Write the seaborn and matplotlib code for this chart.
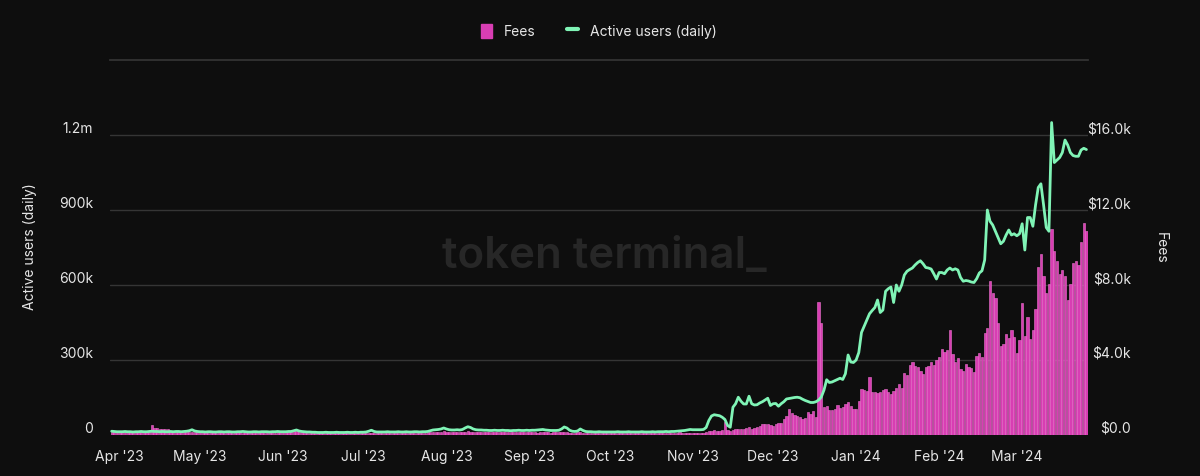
import numpy as np
import pandas as pd
import matplotlib
matplotlib.use("Agg")
import matplotlib.pyplot as plt
import matplotlib.dates as mdates
from matplotlib.patches import Patch
from matplotlib.lines import Line2D
import seaborn as sns

# ==============================================================================
# 1. DATOS (un valor por día desde 2023-03-29)
# ==============================================================================
# usuarios activos diarios, en miles
usuarios_mar23 = [15, 14, 13]
usuarios_abr = [13, 13, 14, 13, 13, 12, 13, 13, 14, 13, 13, 14, 15, 14, 14, 13, 14, 13, 13, 14,
                13, 14, 14, 13, 14, 15, 17, 21, 16, 14]
usuarios_may = [13, 13, 12, 13, 13, 12, 12, 13, 13, 12, 13, 13, 12, 12, 13, 13, 14, 13, 12, 12,
                13, 13, 12, 13, 13, 13, 12, 13, 13, 14, 13]
usuarios_jun = [13, 13, 14, 14, 17, 20, 16, 14, 13, 12, 12, 11, 11, 10, 10, 10, 11, 10, 10, 10,
                11, 10, 10, 10, 11, 10, 10, 11, 10, 11]
usuarios_jul = [11, 12, 15, 19, 14, 12, 12, 12, 12, 13, 12, 12, 12, 13, 12, 12, 13, 12, 12, 13,
                13, 12, 13, 13, 14, 17, 20, 21, 22, 24, 28]
usuarios_ago = [24, 21, 20, 20, 21, 20, 22, 28, 33, 30, 24, 21, 20, 20, 19, 19, 18, 18, 19, 18,
                18, 19, 18, 18, 17, 18, 18, 19, 18, 18, 19]
usuarios_sep = [18, 19, 19, 20, 21, 22, 20, 19, 18, 18, 18, 19, 24, 32, 28, 19, 15, 14, 16, 24,
                18, 14, 13, 13, 12, 12, 13, 12, 12, 12]
usuarios_oct = [12, 12, 12, 13, 12, 12, 12, 13, 12, 12, 12, 12, 13, 12, 12, 12, 13, 12, 13, 13,
                13, 14, 13, 14, 14, 15, 16, 17, 18, 20, 22]
usuarios_nov = [21, 21, 21, 21, 22, 30, 58, 76, 81, 79, 77, 71, 62, 38, 31, 111, 125, 151, 135, 124,
                124, 155, 125, 120, 121, 128, 133, 140, 147, 118]
usuarios_dic = [125, 126, 115, 125, 133, 144, 146, 148, 150, 151, 149, 143, 138, 134, 130, 130, 133,
                140, 152, 180, 221, 210, 212, 217, 222, 227, 222, 245, 320, 292, 290]
usuarios_ene = [300, 330, 410, 435, 460, 485, 498, 510, 540, 490, 500, 575, 585, 592, 530, 600, 575,
                600, 640, 655, 662, 668, 680, 690, 697, 685, 670, 668, 664, 645, 624]
usuarios_feb = [650, 650, 645, 660, 668, 660, 665, 660, 630, 615, 618, 616, 612, 610, 625, 648, 657,
                700, 900, 855, 840, 815, 790, 765, 775, 800, 820, 800, 805]
usuarios_mar24 = [797, 805, 845, 740, 870, 870, 835, 920, 990, 1005, 920, 830, 815, 1250, 1090, 1100,
                  1110, 1130, 1180, 1160, 1130, 1118, 1115, 1115, 1140, 1147, 1142]

# fees diarios, en USD
fees_mar23 = [180, 170, 160]
fees_abr = [160, 150, 170, 160, 150, 140, 150, 160, 170, 150, 160, 200, 550, 380, 350, 330, 320, 330,
            300, 180, 170, 160, 150, 160, 170, 150, 140, 150, 160, 150]
fees_may = [140, 150, 140, 130, 140, 150, 130, 140, 140, 130, 150, 140, 130, 140, 150, 140, 130, 140,
            150, 140, 130, 140, 140, 150, 130, 140, 150, 140, 130, 140, 150]
fees_jun = [150, 170, 190, 210, 220, 200, 180, 150, 130, 120, 120, 110, 120, 110, 110, 120, 110, 100,
            110, 120, 110, 110, 100, 110, 120, 110, 110, 100, 110, 120]
fees_jul = [110, 120, 130, 120, 110, 110, 120, 110, 110, 120, 110, 100, 110, 120, 110, 110, 120, 110,
            110, 120, 130, 120, 120, 130, 140, 160, 170, 160, 170, 180, 190]
fees_ago = [180, 170, 160, 170, 180, 170, 160, 180, 190, 170, 160, 170, 180, 160, 170, 180, 170, 160,
            150, 170, 160, 150, 160, 170, 150, 160, 150, 160, 150, 140, 150]
fees_sep = [140, 150, 140, 130, 150, 160, 150, 140, 130, 140, 150, 170, 180, 160, 150, 130, 120, 130,
            140, 150, 130, 110, 100, 110, 100, 110, 100, 110, 100, 110]
fees_oct = [100, 110, 100, 100, 110, 100, 110, 100, 110, 100, 100, 110, 100, 110, 100, 110, 120, 110,
            110, 120, 110, 120, 130, 120, 130, 120, 140, 130, 120, 110, 120]
fees_nov = [110, 120, 100, 110, 130, 150, 210, 230, 240, 230, 220, 240, 680, 250, 200, 280, 300, 320,
            300, 340, 360, 400, 340, 360, 400, 460, 590, 600, 560, 520]
fees_dic = [500, 560, 620, 660, 840, 1000, 1390, 1150, 1080, 1000, 940, 850, 880, 1200, 1100, 1300,
            950, 7070, 6000, 1500, 1560, 1350, 1350, 1400, 1600, 1450, 1500, 1650, 1780, 1550, 1400]
fees_ene = [1400, 1800, 2450, 2400, 2350, 3080, 2280, 2300, 2250, 2300, 2400, 2450, 2300, 2200, 2350,
            2500, 2720, 2500, 3300, 3200, 3730, 3880, 3700, 3600, 3400, 3250, 3650, 3700, 3880, 3730, 4020]
fees_feb = [4140, 4590, 4450, 4550, 5620, 4320, 3880, 4090, 3520, 3430, 3790, 3610, 3560, 3340, 4200,
            4370, 4140, 5440, 5700, 8230, 7600, 7300, 6000, 4730, 4850, 5390, 5160, 5620, 5210]
fees_mar24 = [4370, 5080, 7020, 5300, 6280, 5120, 5620, 6720, 8940, 9650, 8500, 7560, 8050, 11000,
              9800, 9300, 8600, 8800, 8500, 7200, 8050, 9200, 9300, 9050, 10300, 11300, 10900]

usuarios = (usuarios_mar23 + usuarios_abr + usuarios_may + usuarios_jun + usuarios_jul + usuarios_ago
            + usuarios_sep + usuarios_oct + usuarios_nov + usuarios_dic + usuarios_ene + usuarios_feb
            + usuarios_mar24)
fees = (fees_mar23 + fees_abr + fees_may + fees_jun + fees_jul + fees_ago + fees_sep + fees_oct
        + fees_nov + fees_dic + fees_ene + fees_feb + fees_mar24)

fechas = pd.date_range("2023-03-29", "2024-03-27", freq="D")
df = pd.DataFrame({"fecha": fechas,
                   "usuarios": np.array(usuarios) * 1000,
                   "fees": fees})
df["x"] = mdates.date2num(df["fecha"])

ticks_usuarios = [0, 300000, 600000, 900000, 1200000]
etiquetas_usuarios = ["0", "300k", "600k", "900k", "1.2m"]
ticks_fees = [0, 4000, 8000, 12000, 16000]
etiquetas_fees = ["$0.0", "$4.0k", "$8.0k", "$12.0k", "$16.0k"]

# ==============================================================================
# 2. ESTILO
# ==============================================================================
FONDO = "#0e0e0e"
ROSA = "#d83eb3"
VERDE = "#80f4b6"
REJILLA = "#353535"
TEXTO = "#e6e6e6"

sns.set_theme(style="dark")
plt.rcParams["font.family"] = ["Inter", "DejaVu Sans"]

fig = plt.figure(figsize=(12, 4.77), dpi=100, facecolor=FONDO)
ax = fig.add_axes([0.0917, 0.086, 0.815, 0.786])   # usuarios (izquierda)
ax2 = ax.twinx()                                     # fees (derecha)

# ==============================================================================
# 3. GRAFICOS
# ==============================================================================
sns.barplot(data=df, x="x", y="fees", native_scale=True, ax=ax2, color=ROSA,
            saturation=1, width=0.85, edgecolor="#ef76d1", linewidth=0.4, errorbar=None)
sns.lineplot(data=df, x="x", y="usuarios", ax=ax, color=VERDE, linewidth=2)

ax.set_zorder(2)
ax2.set_zorder(1)
for a in (ax, ax2):
    a.patch.set_visible(False)
    for s in a.spines.values():
        s.set_visible(False)
    a.set_xlabel("")
    a.set_ylabel("")
ax2.spines["top"].set_visible(True)
ax2.spines["top"].set_color(REJILLA)

ax.set_xlim(df["x"].min() - 0.6, df["x"].max() + 0.6)
ax.xaxis.set_major_locator(mdates.MonthLocator())
ax.xaxis.set_major_formatter(mdates.DateFormatter("%b '%y"))
ax.tick_params(axis="x", colors="#4a4a4a", labelcolor=TEXTO, length=6, width=1,
               labelsize=10, pad=4)

ax.set_ylim(0, 1500000)
ax.set_yticks(ticks_usuarios)
ax.set_yticklabels(etiquetas_usuarios)
ax.tick_params(axis="y", length=0, labelsize=10, labelcolor=TEXTO, pad=12)
for lbl in ax.get_yticklabels():
    lbl.set_verticalalignment("bottom")

ax2.set_ylim(0, 20000)
ax2.set_yticks(ticks_fees)
ax2.set_yticklabels(etiquetas_fees)
ax2.tick_params(axis="y", length=0, labelsize=10, labelcolor=TEXTO, pad=31)
for lbl in ax2.get_yticklabels():
    lbl.set_horizontalalignment("right")
    lbl.set_verticalalignment("bottom")

ax.grid(False)
ax2.grid(False)
ax2.yaxis.grid(True, color=REJILLA, linewidth=1)
ax2.set_axisbelow(True)

# titulos de ejes, marca de agua y leyenda
fig.text(30 / 1200, 1 - 247 / 477, "Active users (daily)", rotation=90,
         ha="center", va="center", color=TEXTO, fontsize=10)
fig.text(1161 / 1200, 1 - 248 / 477, "Fees", rotation=270,
         ha="center", va="center", color=TEXTO, fontsize=10)
fig.text(0.504, 1 - 256 / 477, "token terminal_", ha="center", va="center",
         color="#272727", fontsize=31.5, fontweight="semibold", zorder=0)

handles = [Patch(facecolor=ROSA, edgecolor=ROSA),
           Line2D([0], [0], color=VERDE, linewidth=3)]
fig.legend(handles, ["Fees", "Active users (daily)"], loc="center",
           bbox_to_anchor=(0.499, 0.933), ncol=2, frameon=False, fontsize=10,
           labelcolor=TEXTO, handlelength=0.8, handleheight=1.2,
           columnspacing=2.2, handletextpad=0.9)

fig.savefig("out.png", dpi=100, facecolor=FONDO)
